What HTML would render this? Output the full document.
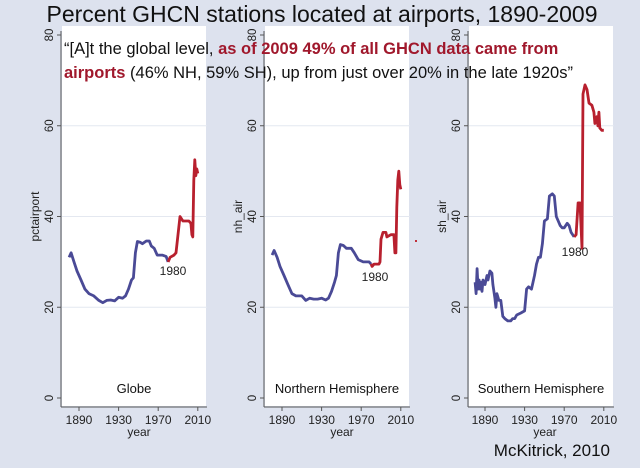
<!DOCTYPE html>
<html><head><meta charset="utf-8">
<style>
html,body{margin:0;padding:0;width:640px;height:468px;overflow:hidden;background:#dde2ee;}
svg{display:block;font-family:"Liberation Sans",sans-serif;}
</style></head>
<body>
<svg id="s" width="640" height="468" viewBox="0 0 640 468">
<rect width="640" height="468" fill="#dde2ee"/>
<rect x="62" y="26" width="144" height="380" fill="#fff"/>
<rect x="265" y="26" width="144" height="380" fill="#fff"/>
<rect x="469" y="26" width="144" height="380" fill="#fff"/>
<g id="g"></g>
<text x="322" y="22" font-size="23" text-anchor="middle" fill="#111">Percent GHCN stations located at airports, 1890-2009</text>
<text x="64" y="54" font-size="16.5" fill="#111">“[A]t the global level, <tspan fill="#a0182c" font-weight="bold">as of 2009 49% of all GHCN data came from</tspan></text>
<text x="64" y="78" font-size="16.5" fill="#111"><tspan fill="#a0182c" font-weight="bold">airports</tspan>  (46% NH, 59% SH), up from just over 20% in the late 1920s”</text>
<text x="134" y="393" font-size="13" text-anchor="middle" fill="#111">Globe</text>
<text x="337" y="393" font-size="13" text-anchor="middle" fill="#111">Northern Hemisphere</text>
<text x="541" y="393" font-size="13" text-anchor="middle" fill="#111">Southern Hemisphere</text>
<text x="610" y="456" font-size="17" text-anchor="end" fill="#111">McKitrick, 2010</text>
<rect x="415" y="240" width="2" height="2" fill="#c0303a"/>
</svg>
<script>
var g=document.getElementById('g'),NS='http://www.w3.org/2000/svg';
function el(t,a,txt){var e=document.createElementNS(NS,t);for(var k in a)e.setAttribute(k,a[k]);if(txt)e.textContent=txt;g.appendChild(e);return e;}
var Y=function(v){return 398-4.5375*v;};
var panels=[
{ax:61,x0:79,lab:'pctairport',
 b:[[1880,31],[1882,32],[1885,30],[1888,28],[1892,26],[1896,24],[1900,23],[1905,22.5],[1910,21.5],[1914,21],[1918,21.5],[1922,21.6],[1926,21.4],[1930,22.2],[1934,22],[1937,22.5],[1940,24],[1943,26],[1945,26.5],[1947,32],[1949,34.5],[1952,34.3],[1954,34],[1958,34.6],[1961,34.6],[1963,33.5],[1966,33],[1969,31.5],[1974,31.5],[1978,31.2],[1980,30]],
 r:[[1980,30],[1982,31],[1986,31.5],[1988,32],[1990,36],[1992,40],[1995,39],[1998,39],[2001,39],[2003,38.5],[2004,36],[2005,35.5],[2006,48],[2007,52.5],[2008,49],[2009,50.5],[2010,49.5]],
 l:[173,275]},
{ax:264,x0:282,lab:'nh_air',
 b:[[1880,31.5],[1882,32.5],[1885,31],[1888,29],[1892,27],[1896,25],[1900,23],[1904,22.5],[1910,22.5],[1914,21.5],[1918,22],[1922,21.8],[1926,21.8],[1930,22],[1934,21.6],[1937,22],[1940,23.5],[1943,25.5],[1945,27],[1947,32],[1949,33.8],[1952,33.6],[1955,33],[1960,33],[1963,32],[1967,30.5],[1972,30],[1978,30],[1980,29.5]],
 r:[[1980,29.5],[1981,29],[1983,29.5],[1988,29.5],[1989,30],[1990,35],[1992,36.5],[1995,36.5],[1996,35.5],[2000,36],[2003,36],[2004,32],[2005,32],[2006,42],[2007,48],[2008,50],[2009,47],[2010,46]],
 l:[375,281]},
{ax:468,x0:485,lab:'sh_air',
 b:[[1880,25.5],[1881,23],[1882,28.5],[1883,24],[1884,26],[1885,24],[1886,25.5],[1887,23.5],[1888,26],[1890,25],[1892,27],[1893,26],[1895,28],[1897,27.5],[1898,25],[1900,22],[1901,20],[1902,23],[1904,21.5],[1906,21.5],[1908,18],[1910,17.5],[1913,17],[1916,17],[1918,17.5],[1920,17.5],[1922,18.3],[1926,18.7],[1930,19.2],[1932,24],[1934,24.5],[1937,24],[1940,27],[1942,29.5],[1944,31],[1946,31],[1948,34],[1950,39],[1953,39.5],[1955,44.5],[1958,45],[1960,44.5],[1962,40],[1966,38],[1968,37.5],[1970,37.5],[1973,38.5],[1975,38],[1977,36.5],[1980,35.5]],
 r:[[1980,35.5],[1982,36],[1984,43],[1986,43],[1987,38],[1988,33],[1989,67],[1991,69],[1993,68],[1995,65],[1998,64.5],[2000,63],[2001,60.5],[2003,62],[2004,60],[2005,63],[2006,59.5],[2008,59],[2010,59]],
 l:[575,256]}];
panels.forEach(function(p){
 var X=function(y){return p.x0+(y-1890)*0.99;};
 [20,40,60].forEach(function(v){el('line',{x1:p.ax+1,x2:p.ax+146,y1:Y(v),y2:Y(v),stroke:'#e4e8f0','stroke-width':1});});
 el('line',{x1:p.ax,x2:p.ax,y1:Y(80)-4,y2:407,stroke:'#555','stroke-width':1});
 el('line',{x1:p.ax,x2:p.ax+146,y1:407,y2:407,stroke:'#555','stroke-width':1});
 [0,20,40,60,80].forEach(function(v){
  el('line',{x1:p.ax-4,x2:p.ax,y1:Y(v),y2:Y(v),stroke:'#555'});
  el('text',{x:p.ax-8,y:Y(v),'font-size':11.5,'text-anchor':'middle',fill:'#222',transform:'rotate(-90 '+(p.ax-8)+' '+Y(v)+')'},String(v));
 });
 [1890,1930,1970,2010].forEach(function(y){
  el('line',{x1:X(y),x2:X(y),y1:407,y2:411,stroke:'#555'});
  el('text',{x:X(y),y:424,'font-size':12,'text-anchor':'middle',fill:'#222'},String(y));
 });
 el('text',{x:p.x0+60,y:436,'font-size':12,'text-anchor':'middle',fill:'#222'},'year');
 el('text',{x:p.ax-22,y:Y(40),'font-size':12,'text-anchor':'middle',fill:'#222',transform:'rotate(-90 '+(p.ax-22)+' '+Y(40)+')'},p.lab);
 var f=function(a){return a.map(function(q){return X(q[0]).toFixed(1)+','+Y(q[1]).toFixed(1);}).join(' ');};
 el('polyline',{points:f(p.b),fill:'none',stroke:'#4a4a96','stroke-width':2.8,'stroke-linejoin':'round'});
 el('polyline',{points:f(p.r),fill:'none',stroke:'#b8202e','stroke-width':2.8,'stroke-linejoin':'round'});
 el('text',{x:p.l[0],y:p.l[1],'font-size':12,'text-anchor':'middle',fill:'#222'},'1980');
});
</script>
</body></html>
